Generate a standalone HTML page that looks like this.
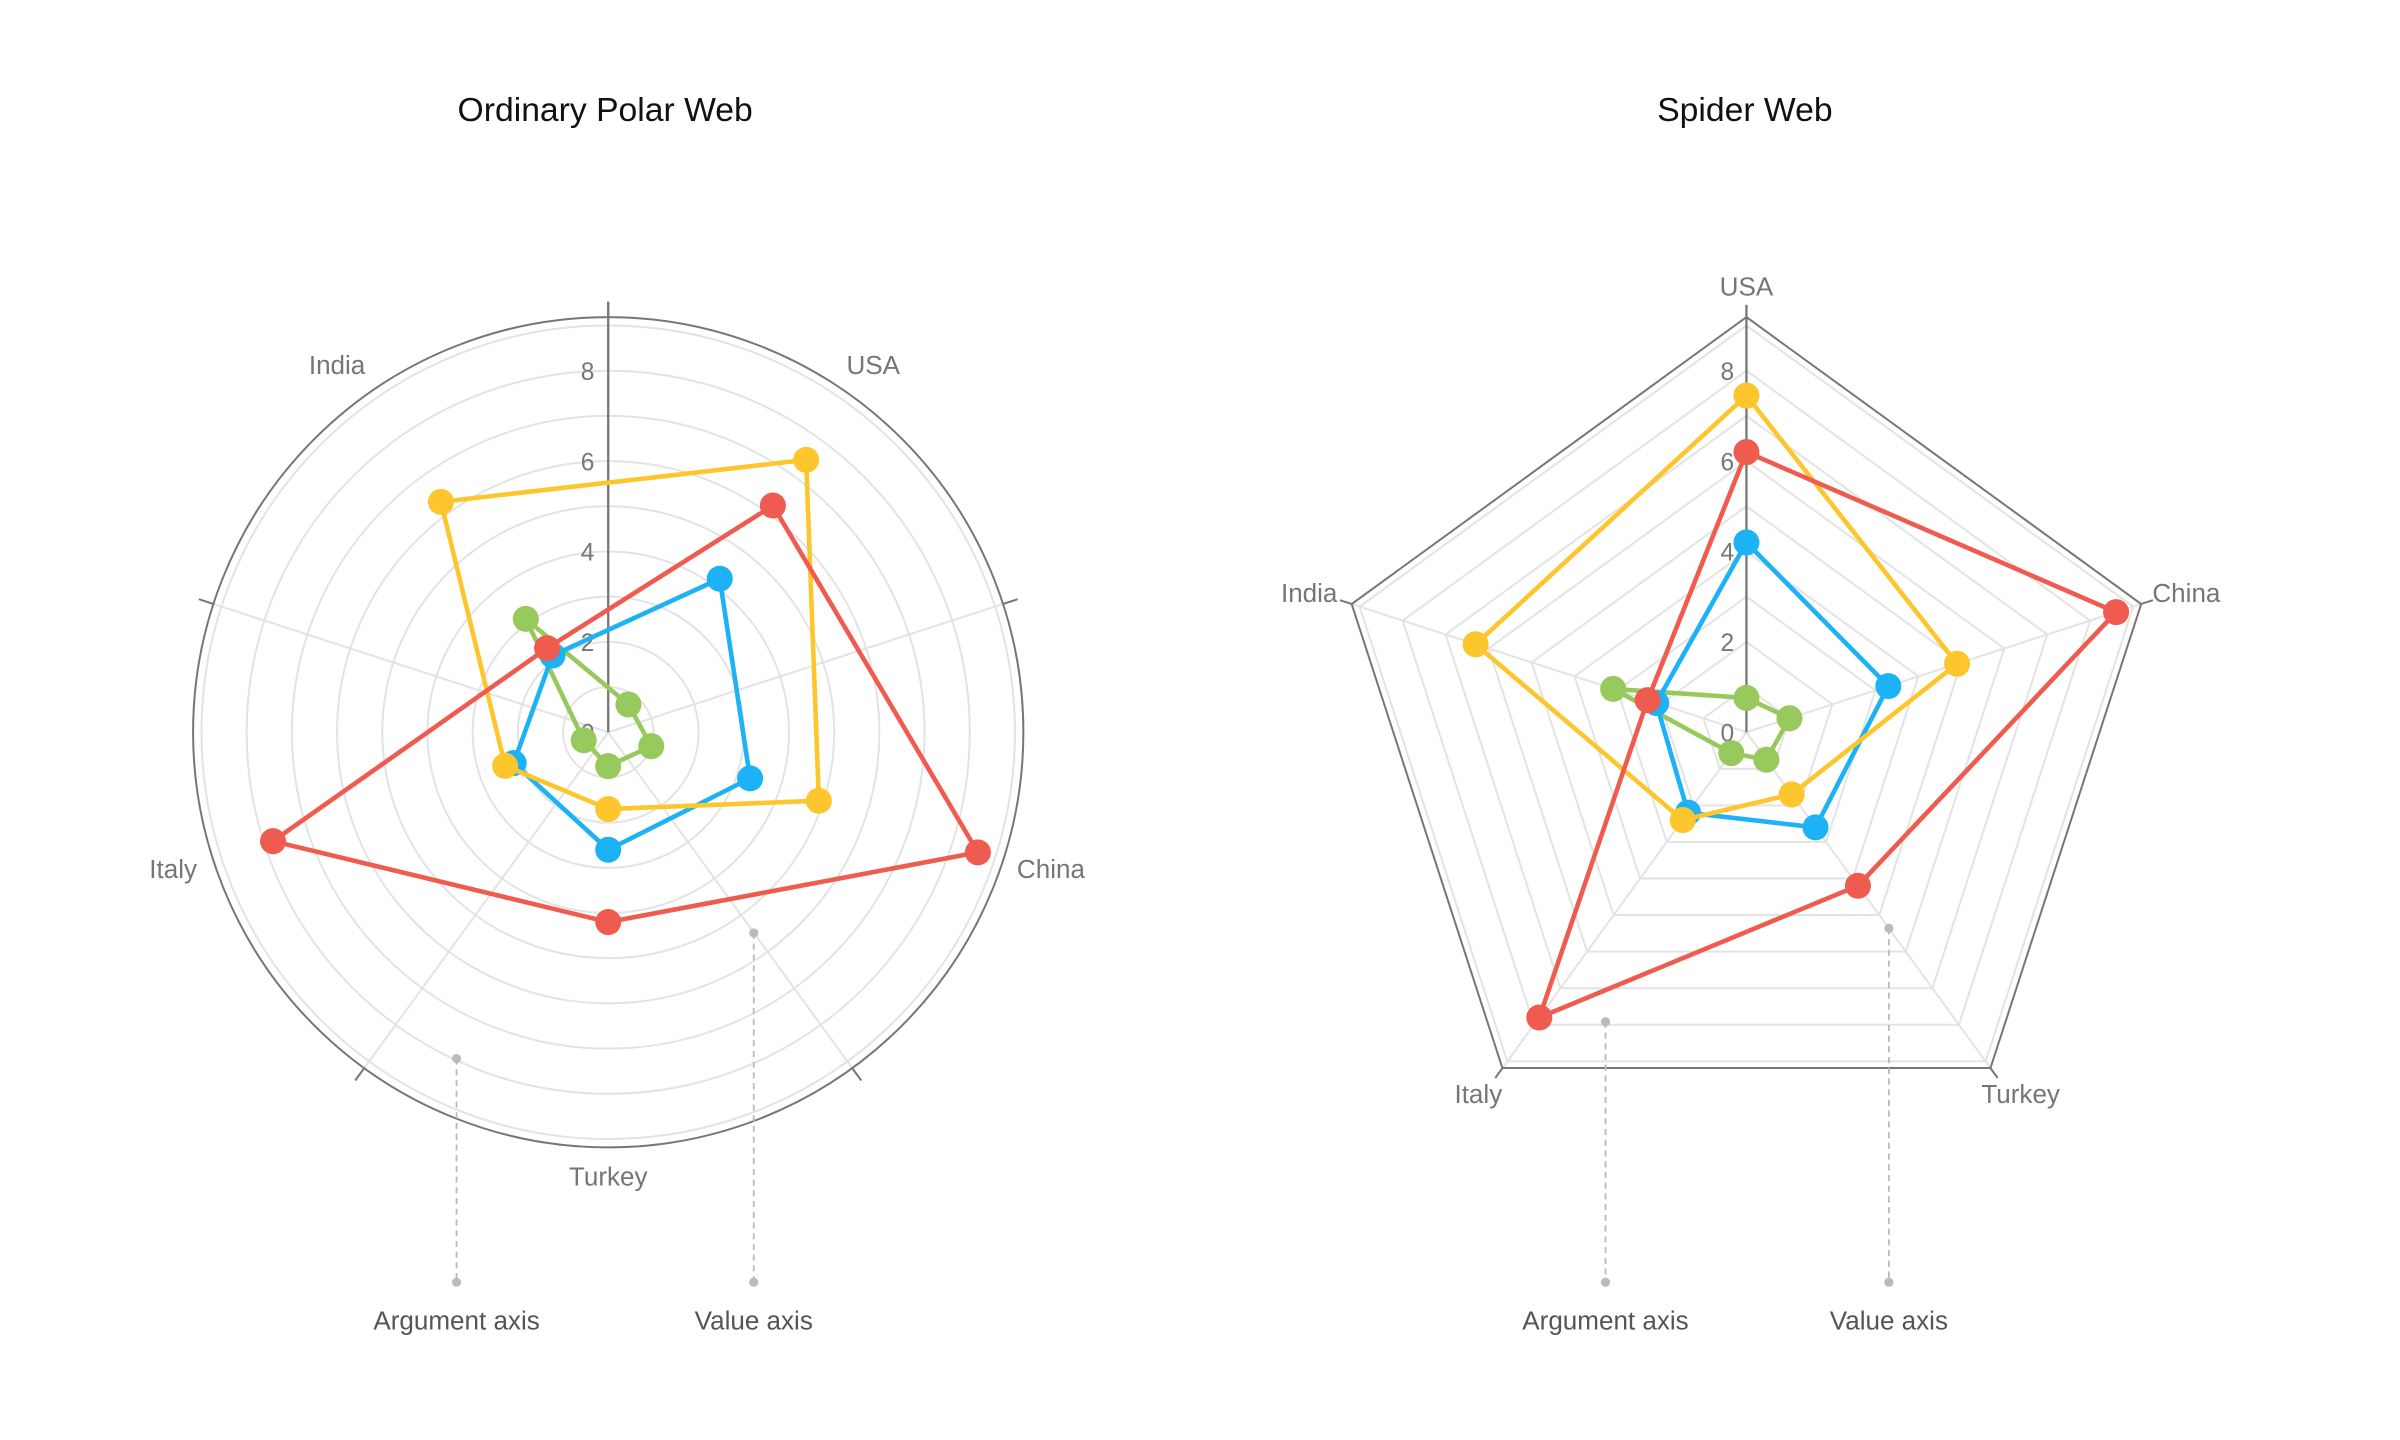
<!DOCTYPE html>
<html><head><meta charset="utf-8"><style>
html,body{margin:0;padding:0;background:#fff;}
svg{display:block;}
text{font-family:"Liberation Sans",sans-serif;}
</style></head><body>
<svg id="s" width="2400" height="1440" viewBox="0 0 1566.6 940" xmlns="http://www.w3.org/2000/svg">
<text x="395" y="79" font-size="22" text-anchor="middle" fill="#111">Ordinary Polar Web</text>
<text x="1139" y="79" font-size="22" text-anchor="middle" fill="#111">Spider Web</text>
<g id="g"></g>
</svg>
<script>
var NS="http://www.w3.org/2000/svg",g=document.getElementById('g'),h='';
var U=29.5,R=271;
var data={red:[6.2,8.6,4.2,7.8,2.3],yellow:[7.45,4.9,1.7,2.4,6.3],blue:[4.2,3.3,2.6,2.2,2.1],green:[0.76,1.0,0.75,0.57,3.1]};
var col={red:'#f05b4f',yellow:'#fdc62d',blue:'#1db2f5',green:'#97c95c'};
var order=['green','blue','yellow','red'];
var names=['USA','China','Turkey','Italy','India'];
function P(cx,cy,a,r){a=a*Math.PI/180;return [cx+r*Math.sin(a),cy-r*Math.cos(a)];}
function pts(cx,cy,off,r){var s=[];for(var i=0;i<5;i++){var p=P(cx,cy,off+72*i,r);s.push(p[0].toFixed(1)+','+p[1].toFixed(1));}return s.join(' ');}
// polar
var cx=397,cy=478;
for(var k=1;k<=9;k++)h+='<circle cx="'+cx+'" cy="'+cy+'" r="'+(U*k)+'" fill="none" stroke="#e3e3e3" stroke-width="1.3"/>';
for(var i=0;i<5;i++){var a=72*i;var p=P(cx,cy,a,R),q=P(cx,cy,a,R+10);
 if(i>0)h+='<line x1="'+cx+'" y1="'+cy+'" x2="'+p[0]+'" y2="'+p[1]+'" stroke="#e3e3e3" stroke-width="1.3"/>';
 h+='<line x1="'+p[0]+'" y1="'+p[1]+'" x2="'+q[0]+'" y2="'+q[1]+'" stroke="#767676" stroke-width="1.3"/>';}
h+='<circle cx="'+cx+'" cy="'+cy+'" r="'+R+'" fill="none" stroke="#767676" stroke-width="1.3"/>';
h+='<line x1="'+cx+'" y1="'+cy+'" x2="'+cx+'" y2="197" stroke="#767676" stroke-width="1.5"/>';
for(var v=0;v<=8;v+=2)h+='<text x="388" y="'+(cy-U*v+6)+'" font-size="16" fill="#767676" text-anchor="end">'+v+'</text>';
var pl=[[570,244],[686,573],[397,774],[113,573],[220,244]];
for(var i=0;i<5;i++)h+='<text x="'+pl[i][0]+'" y="'+pl[i][1]+'" font-size="17" fill="#767676" text-anchor="middle">'+names[i]+'</text>';
function series(cx,cy,off){var o='';order.forEach(function(c){var d=data[c],s=[];for(var i=0;i<5;i++){var p=P(cx,cy,off+72*i,d[i]*U);s.push(p);}
 o+='<polygon points="'+s.map(function(p){return p[0].toFixed(1)+','+p[1].toFixed(1)}).join(' ')+'" fill="none" stroke="'+col[c]+'" stroke-width="3" stroke-linejoin="round"/>';
 s.forEach(function(p){o+='<circle cx="'+p[0].toFixed(1)+'" cy="'+p[1].toFixed(1)+'" r="8.5" fill="'+col[c]+'"/>';});});return o;}
h+=series(cx,cy,36);
// spider
var sx=1140,sy=478;
for(var k=1;k<=9;k++)h+='<polygon points="'+pts(sx,sy,0,U*k)+'" fill="none" stroke="#e3e3e3" stroke-width="1.3"/>';
for(var i=1;i<5;i++){var p=P(sx,sy,72*i,R);h+='<line x1="'+sx+'" y1="'+sy+'" x2="'+p[0]+'" y2="'+p[1]+'" stroke="#e3e3e3" stroke-width="1.3"/>';
 var q=P(sx,sy,72*i,R+8);h+='<line x1="'+p[0]+'" y1="'+p[1]+'" x2="'+q[0]+'" y2="'+q[1]+'" stroke="#767676" stroke-width="1.3"/>';}
h+='<polygon points="'+pts(sx,sy,0,R)+'" fill="none" stroke="#767676" stroke-width="1.3"/>';
h+='<line x1="'+sx+'" y1="'+sy+'" x2="'+sx+'" y2="'+(sy-R-8)+'" stroke="#767676" stroke-width="1.5"/>';
for(var v=0;v<=8;v+=2)h+='<text x="1132" y="'+(sy-U*v+6)+'" font-size="16" fill="#767676" text-anchor="end">'+v+'</text>';
var sl=[[1140,193,'middle'],[1405,393,'start'],[1319,720,'middle'],[965,720,'middle'],[873,393,'end']];
for(var i=0;i<5;i++)h+='<text x="'+sl[i][0]+'" y="'+sl[i][1]+'" font-size="17" fill="#767676" text-anchor="'+sl[i][2]+'">'+names[i]+'</text>';
h+=series(sx,sy,0);
// annotations
[[298,691,'Argument axis'],[492,609,'Value axis'],[1048,667,'Argument axis'],[1233,606,'Value axis']].forEach(function(a){
 h+='<line x1="'+a[0]+'" y1="'+a[1]+'" x2="'+a[0]+'" y2="837" stroke="#bbb" stroke-width="1.2" stroke-dasharray="4,3"/>';
 h+='<circle cx="'+a[0]+'" cy="'+a[1]+'" r="3" fill="#bbb"/><circle cx="'+a[0]+'" cy="837" r="3" fill="#bbb"/>';
 h+='<text x="'+a[0]+'" y="868" font-size="17" fill="#555" text-anchor="middle">'+a[2]+'</text>';});
g.innerHTML=h;
</script>
</body></html>
